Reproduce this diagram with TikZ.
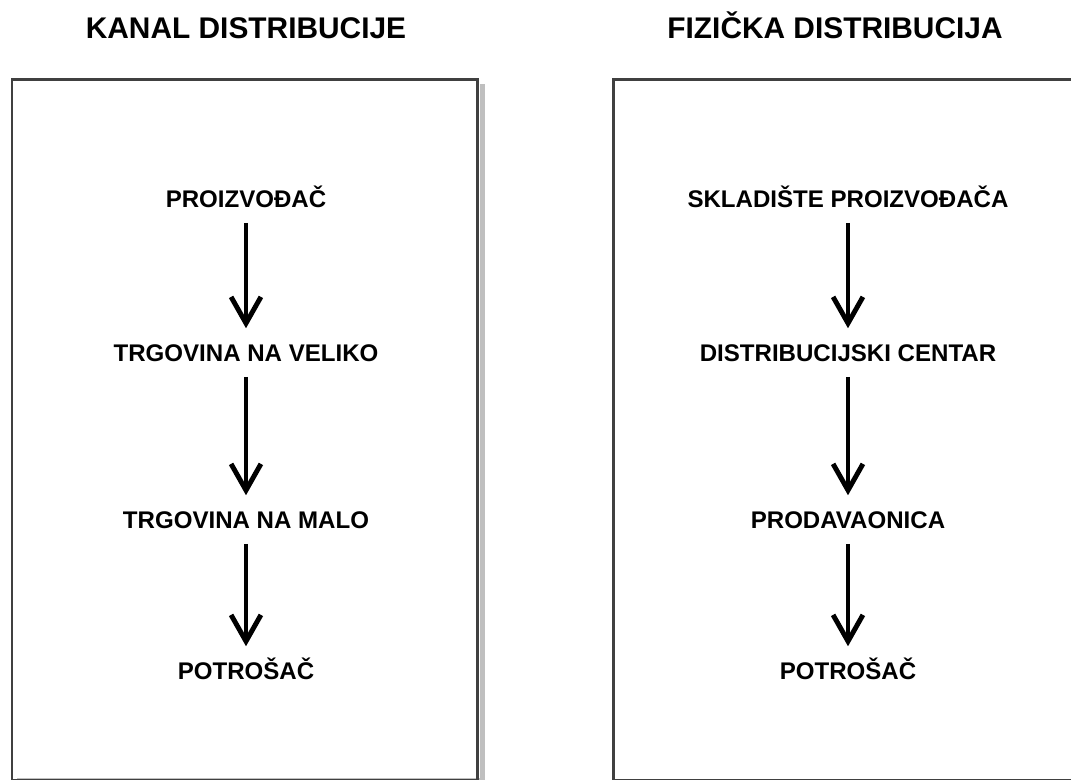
\documentclass[tikz,border=0pt]{standalone}
\usepackage{fontspec}
\setmainfont{Liberation Sans}
\usetikzlibrary{arrows.meta}

\tikzset{
  naslov/.style={font=\fontsize{17}{19}\selectfont\bfseries, inner sep=0pt, text height=12.2pt, text depth=0pt},
  korak/.style={font=\fontsize{13.7}{15}\selectfont\bfseries, inner sep=0pt, text height=9.8pt, text depth=0pt},
  tok/.style={line width=2.8pt, -{Straight Barb[length=15pt,width=17pt,line width=2.8pt]}, shorten <=8.5pt, shorten >=9pt},
  okvir/.style={draw=black!75, line width=1.7pt},
  sjena/.style={fill=black!25, draw=none}
}

\begin{document}
\begin{tikzpicture}[x=0.02cm, y=-0.02cm]
\useasboundingbox (0,0) rectangle (1071,779);
\clip (0,0) rectangle (1071,779);
\fill[white] (0,0) rectangle (1071,779);

% okviri
\fill[sjena] (480,84) rectangle (485,790);
\fill[sjena] (17,778) rectangle (485,790);
\draw[okvir] (12,79) rectangle (477,780);
\draw[okvir] (613,79) rectangle (1090,780);

% naslovi
\node[naslov] (n1) at (246,28) {KANAL DISTRIBUCIJE};
\node[naslov] (n2) at (835,28) {FIZIČKA DISTRIBUCIJA};

% kanal distribucije
\node[korak] (k1) at (246,199) {PROIZVOĐAČ};
\node[korak] (k2) at (246,353) {TRGOVINA NA VELIKO};
\node[korak] (k3) at (246,520) {TRGOVINA NA MALO};
\node[korak] (k4) at (246,671) {POTROŠAČ};
\draw[tok] (k1) -- (k2);
\draw[tok] (k2) -- (k3);
\draw[tok] (k3) -- (k4);

% fizicka distribucija
\node[korak] (f1) at (848,199) {SKLADIŠTE PROIZVOĐAČA};
\node[korak] (f2) at (848,353) {DISTRIBUCIJSKI CENTAR};
\node[korak] (f3) at (848,520) {PRODAVAONICA};
\node[korak] (f4) at (848,671) {POTROŠAČ};
\draw[tok] (f1) -- (f2);
\draw[tok] (f2) -- (f3);
\draw[tok] (f3) -- (f4);
\end{tikzpicture}
\end{document}
